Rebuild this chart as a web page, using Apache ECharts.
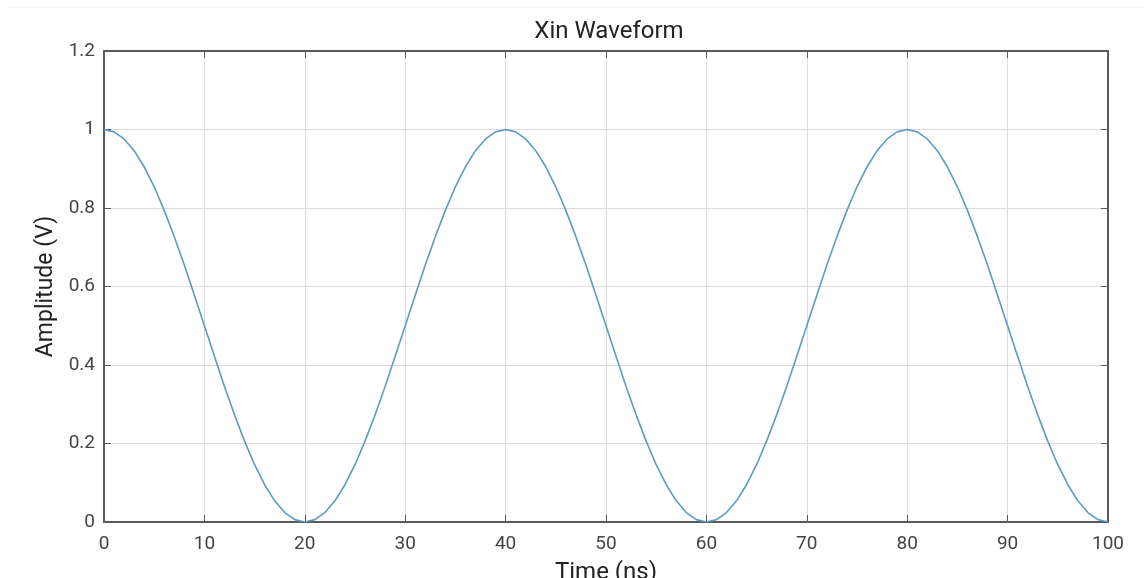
<!DOCTYPE html>
<html>
<head>
<meta charset="utf-8">
<script src="https://cdn.jsdelivr.net/npm/echarts@6/dist/echarts.min.js"></script>
<style>
  html, body { margin: 0; padding: 0; background: #fff; }
  #chart { width: 1144px; height: 578px; }
</style>
</head>
<body>
<div id="chart"></div>
<script>
// amplitude, one sample per ns from 0 to 100
var amps = [
  1, 0.994, 0.976, 0.946, 0.905, 0.854, 0.794, 0.727, 0.655, 0.578,
  0.5, 0.422, 0.345, 0.273, 0.206, 0.146, 0.095, 0.054, 0.024, 0.006,
  0, 0.006, 0.024, 0.054, 0.095, 0.146, 0.206, 0.273, 0.345, 0.422,
  0.5, 0.578, 0.655, 0.727, 0.794, 0.854, 0.905, 0.946, 0.976, 0.994,
  1, 0.994, 0.976, 0.946, 0.905, 0.854, 0.794, 0.727, 0.655, 0.578,
  0.5, 0.422, 0.345, 0.273, 0.206, 0.146, 0.095, 0.054, 0.024, 0.006,
  0, 0.006, 0.024, 0.054, 0.095, 0.146, 0.206, 0.273, 0.345, 0.422,
  0.5, 0.578, 0.655, 0.727, 0.794, 0.854, 0.905, 0.946, 0.976, 0.994,
  1, 0.994, 0.976, 0.946, 0.905, 0.854, 0.794, 0.727, 0.655, 0.578,
  0.5, 0.422, 0.345, 0.273, 0.206, 0.146, 0.095, 0.054, 0.024, 0.006,
  0
];
var times = amps.map(function (a, i) { return i; });
var xTicks = [0, 10, 20, 30, 40, 50, 60, 70, 80, 90, 100];
var yTicks = [0, 0.2, 0.4, 0.6, 0.8, 1, 1.2];

var chart = echarts.init(document.getElementById('chart'));

var axisCol = '#5a5a5a';
var font = 'Roboto, "Liberation Sans", sans-serif';

var points = times.map(function (t, i) { return [t, amps[i]]; });

var option = {
  animation: false,
  title: {
    text: 'Xin Waveform',
    left: 604,
    top: 15,
    textAlign: 'center',
    textStyle: { fontFamily: font, fontSize: 24, fontWeight: 'normal', color: '#222' }
  },
  grid: { left: 104, right: 36, top: 51, bottom: 56, outerBoundsMode: 'none', containLabel: false },
  xAxis: [
    {
      type: 'value', min: 0, max: 100, interval: 10,
      name: 'Time (ns)', nameLocation: 'middle', nameGap: 39,
      nameTextStyle: { fontFamily: font, fontSize: 24, color: '#222' },
      axisLine: { show: true, onZero: false, lineStyle: { color: axisCol, width: 2 } },
      axisTick: { show: true, inside: true, length: 7, lineStyle: { color: axisCol } },
      axisLabel: { fontFamily: font, fontSize: 19, color: '#444', margin: 13,
        formatter: function (v) { return xTicks.indexOf(v) >= 0 ? String(v) : ''; } },
      splitLine: { show: true, lineStyle: { color: '#dcdcdc', width: 1 } }
    },
    {
      type: 'value', min: 0, max: 100, interval: 10, position: 'top',
      axisLine: { show: true, onZero: false, lineStyle: { color: axisCol, width: 2 } },
      axisTick: { show: true, inside: true, length: 7, lineStyle: { color: axisCol } },
      axisLabel: { show: false },
      splitLine: { show: false }
    }
  ],
  yAxis: [
    {
      type: 'value', min: 0, max: 1.2, interval: 0.2,
      name: 'Amplitude (V)', nameLocation: 'middle', nameGap: 45,
      nameTextStyle: { fontFamily: font, fontSize: 23, color: '#222' },
      axisLine: { show: true, onZero: false, lineStyle: { color: axisCol, width: 2 } },
      axisTick: { show: true, inside: true, length: 7, lineStyle: { color: axisCol } },
      axisLabel: { fontFamily: font, fontSize: 19, color: '#444', margin: 9,
        formatter: function (v) {
          var r = Math.round(v * 10) / 10;
          return yTicks.indexOf(r) >= 0 ? String(r) : '';
        } },
      splitLine: { show: true, lineStyle: { color: '#dcdcdc', width: 1 } }
    },
    {
      type: 'value', min: 0, max: 1.2, interval: 0.2, position: 'right',
      axisLine: { show: true, onZero: false, lineStyle: { color: axisCol, width: 2 } },
      axisTick: { show: true, inside: true, length: 7, lineStyle: { color: axisCol } },
      axisLabel: { show: false },
      splitLine: { show: false }
    }
  ],
  graphic: [
    { type: 'line', shape: { x1: 8, y1: 7, x2: 1144, y2: 7 }, style: { stroke: '#eeeeee', lineWidth: 1 } }
  ],
  series: [
    {
      type: 'line',
      data: points,
      showSymbol: false,
      lineStyle: { color: '#5a9cc2', width: 1.6 }
    }
  ]
};

chart.setOption(option);
</script>
</body>
</html>
